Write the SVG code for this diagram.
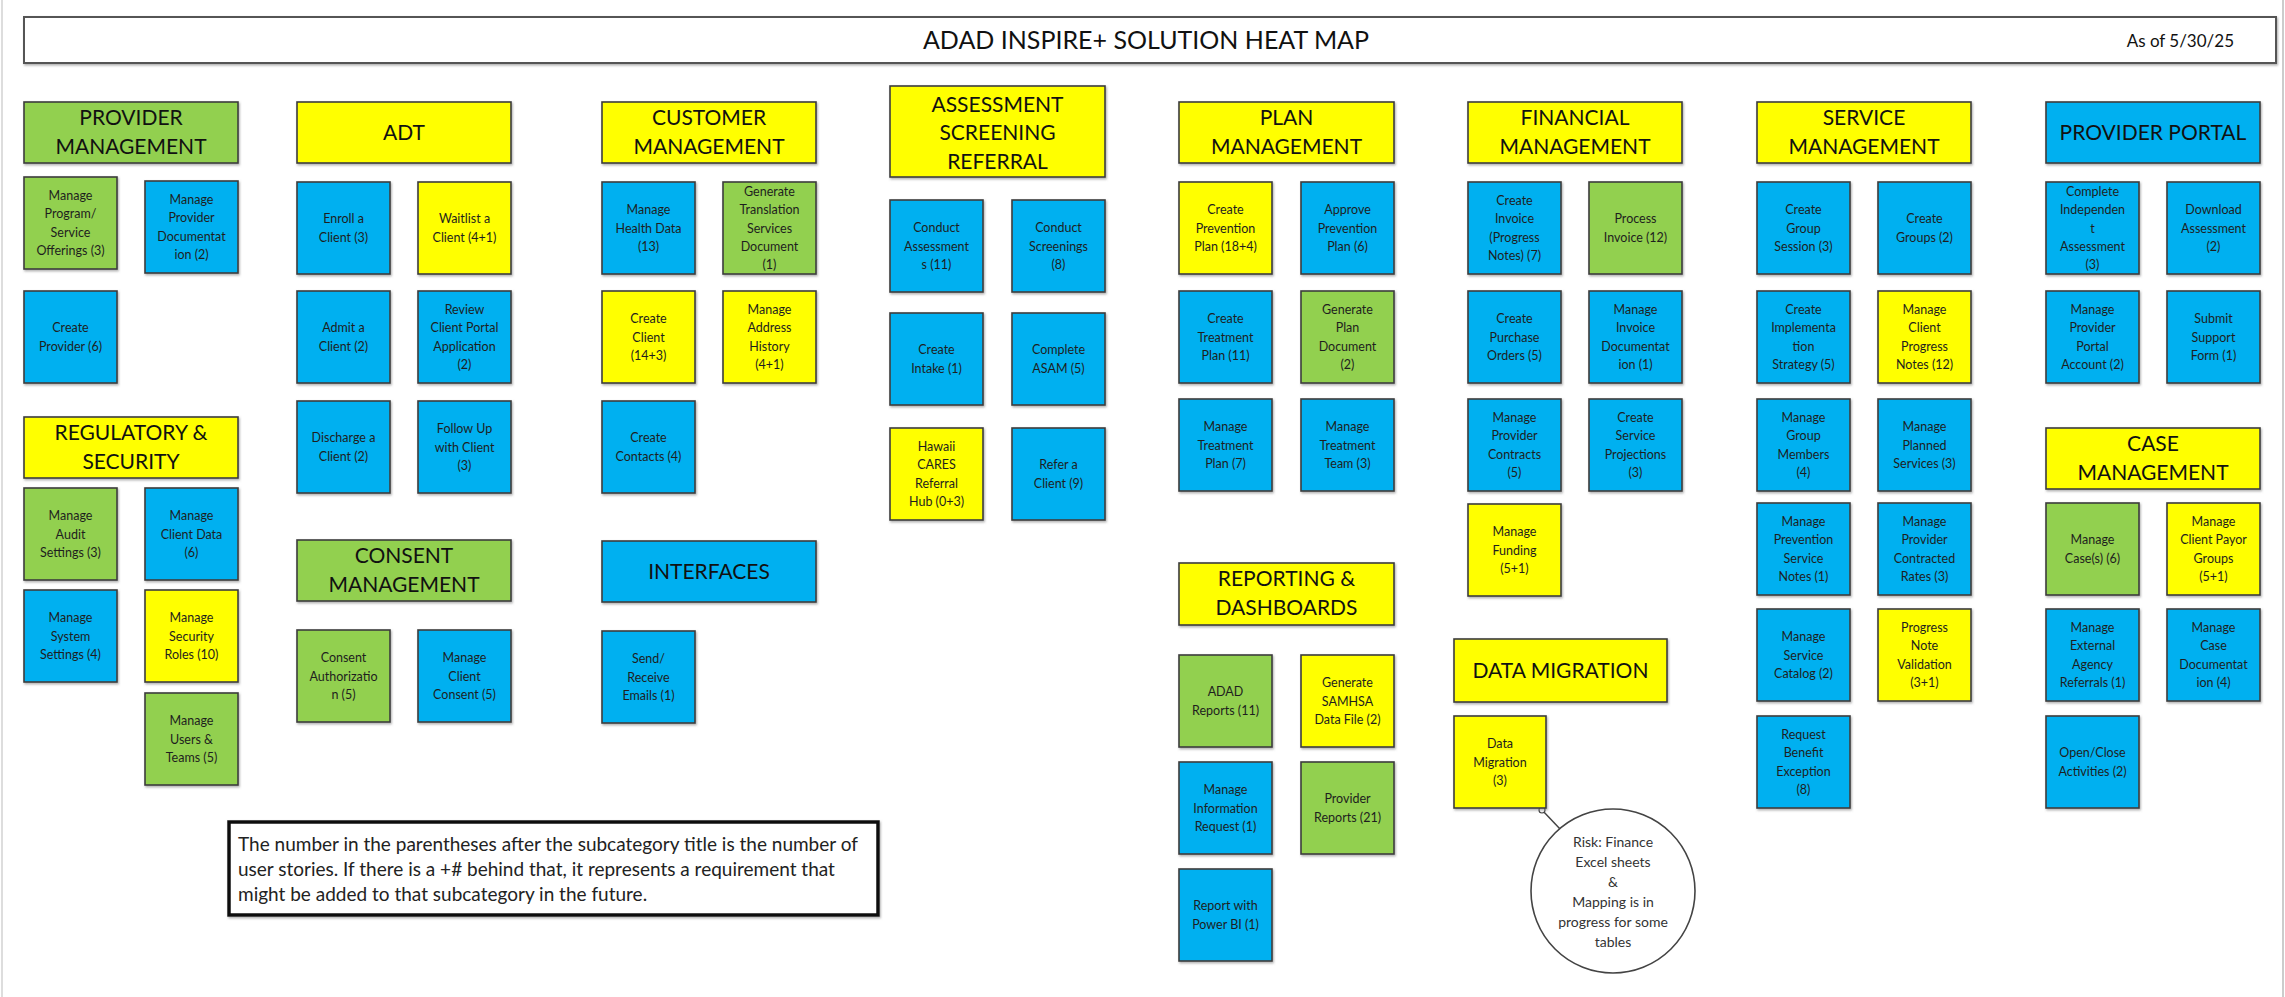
<svg xmlns="http://www.w3.org/2000/svg" width="2285" height="997" viewBox="0 0 2285 997">
<defs>
<filter id="sh" x="-10%" y="-10%" width="130%" height="130%"><feDropShadow dx="1" dy="1.5" stdDeviation="1" flood-color="#777" flood-opacity="0.6"/></filter>
<style>
.b{stroke:#3c3c3c;stroke-width:1.6;filter:url(#sh)}
.g{fill:#92D050}.y{fill:#FFFF00}.u{fill:#00B0F0}
.t{font-family:Lato,"Liberation Sans",sans-serif;font-size:12.5px;fill:#1e1e1e;text-anchor:middle}
.h{font-family:Lato,"Liberation Sans",sans-serif;font-size:21px;fill:#111;text-anchor:middle}
.c{font-family:Lato,"Liberation Sans",sans-serif;font-size:14px;fill:#333;text-anchor:middle}
.nt{font-family:Lato,"Liberation Sans",sans-serif;font-size:19px;fill:#222}
</style>
</defs>
<rect width="2285" height="997" fill="#fff"/>
<line x1="2" y1="0" x2="2" y2="997" stroke="#ddd" stroke-width="2"/>
<line x1="2283" y1="0" x2="2283" y2="997" stroke="#ccc" stroke-width="2"/>

<g id="title">
<rect x="24" y="17" width="2252" height="46" fill="#fff" stroke="#555" stroke-width="2" filter="url(#sh)"/>
<text x="1146" y="49" font-family="Lato,'Liberation Sans',sans-serif" font-size="25" fill="#111" text-anchor="middle">ADAD INSPIRE+ SOLUTION HEAT MAP</text>
<text x="2234" y="47" font-family="Lato,'Liberation Sans',sans-serif" font-size="17" fill="#111" text-anchor="end">As of 5/30/25</text>
</g>

<g id="connectors">
<line x1="1542" y1="810" x2="1561" y2="830" stroke="#444" stroke-width="1.5"/>
<circle cx="1542" cy="810" r="3" fill="#fff" stroke="#444" stroke-width="1.2"/>
</g>

<!-- Column 1 -->
<g id="h-provider-mgmt"><rect class="b g" x="24" y="102" width="214" height="61"/><text class="h" x="131" y="125"><tspan x="131">PROVIDER</tspan><tspan x="131" dy="29">MANAGEMENT</tspan></text></g>
<g id="n-program"><rect class="b g" x="24" y="177" width="93" height="92"/><text class="t" x="70.5" y="199.75"><tspan x="70.5">Manage</tspan><tspan x="70.5" dy="18.5">Program/</tspan><tspan x="70.5" dy="18.5">Service</tspan><tspan x="70.5" dy="18.5">Offerings (3)</tspan></text></g>
<g id="n-provdoc"><rect class="b u" x="145" y="181" width="93" height="92"/><text class="t" x="191.5" y="203.75"><tspan x="191.5">Manage</tspan><tspan x="191.5" dy="18.5">Provider</tspan><tspan x="191.5" dy="18.5">Documentat</tspan><tspan x="191.5" dy="18.5">ion (2)</tspan></text></g>
<g id="n-createprov"><rect class="b u" x="24" y="291" width="93" height="92"/><text class="t" x="70.5" y="332.25"><tspan x="70.5">Create</tspan><tspan x="70.5" dy="18.5">Provider (6)</tspan></text></g>
<g id="h-regulatory"><rect class="b y" x="24" y="417" width="214" height="61"/><text class="h" x="131" y="440"><tspan x="131">REGULATORY &amp;</tspan><tspan x="131" dy="29">SECURITY</tspan></text></g>
<g id="n-audit"><rect class="b g" x="24" y="488" width="93" height="92"/><text class="t" x="70.5" y="520"><tspan x="70.5">Manage</tspan><tspan x="70.5" dy="18.5">Audit</tspan><tspan x="70.5" dy="18.5">Settings (3)</tspan></text></g>
<g id="n-clientdata"><rect class="b u" x="145" y="488" width="93" height="92"/><text class="t" x="191.5" y="520"><tspan x="191.5">Manage</tspan><tspan x="191.5" dy="18.5">Client Data</tspan><tspan x="191.5" dy="18.5">(6)</tspan></text></g>
<g id="n-system"><rect class="b u" x="24" y="590" width="93" height="92"/><text class="t" x="70.5" y="622"><tspan x="70.5">Manage</tspan><tspan x="70.5" dy="18.5">System</tspan><tspan x="70.5" dy="18.5">Settings (4)</tspan></text></g>
<g id="n-roles"><rect class="b y" x="145" y="590" width="93" height="92"/><text class="t" x="191.5" y="622"><tspan x="191.5">Manage</tspan><tspan x="191.5" dy="18.5">Security</tspan><tspan x="191.5" dy="18.5">Roles (10)</tspan></text></g>
<g id="n-users"><rect class="b g" x="145" y="693" width="93" height="92"/><text class="t" x="191.5" y="725"><tspan x="191.5">Manage</tspan><tspan x="191.5" dy="18.5">Users &amp;</tspan><tspan x="191.5" dy="18.5">Teams (5)</tspan></text></g>

<!-- Column 2 -->
<g id="h-adt"><rect class="b y" x="297" y="102" width="214" height="61"/><text class="h" x="404" y="140">ADT</text></g>
<g id="n-enroll"><rect class="b u" x="297" y="182" width="93" height="92"/><text class="t" x="343.5" y="223.25"><tspan x="343.5">Enroll a</tspan><tspan x="343.5" dy="18.5">Client (3)</tspan></text></g>
<g id="n-waitlist"><rect class="b y" x="418" y="182" width="93" height="92"/><text class="t" x="464.5" y="223.25"><tspan x="464.5">Waitlist a</tspan><tspan x="464.5" dy="18.5">Client (4+1)</tspan></text></g>
<g id="n-admit"><rect class="b u" x="297" y="291" width="93" height="92"/><text class="t" x="343.5" y="332.25"><tspan x="343.5">Admit a</tspan><tspan x="343.5" dy="18.5">Client (2)</tspan></text></g>
<g id="n-review"><rect class="b u" x="418" y="291" width="93" height="92"/><text class="t" x="464.5" y="313.75"><tspan x="464.5">Review</tspan><tspan x="464.5" dy="18.5">Client Portal</tspan><tspan x="464.5" dy="18.5">Application</tspan><tspan x="464.5" dy="18.5">(2)</tspan></text></g>
<g id="n-discharge"><rect class="b u" x="297" y="401" width="93" height="92"/><text class="t" x="343.5" y="442.25"><tspan x="343.5">Discharge a</tspan><tspan x="343.5" dy="18.5">Client (2)</tspan></text></g>
<g id="n-followup"><rect class="b u" x="418" y="401" width="93" height="92"/><text class="t" x="464.5" y="433"><tspan x="464.5">Follow Up</tspan><tspan x="464.5" dy="18.5">with Client</tspan><tspan x="464.5" dy="18.5">(3)</tspan></text></g>
<g id="h-consent"><rect class="b g" x="297" y="540" width="214" height="61"/><text class="h" x="404" y="563"><tspan x="404">CONSENT</tspan><tspan x="404" dy="29">MANAGEMENT</tspan></text></g>
<g id="n-consentauth"><rect class="b g" x="297" y="630" width="93" height="92"/><text class="t" x="343.5" y="662"><tspan x="343.5">Consent</tspan><tspan x="343.5" dy="18.5">Authorizatio</tspan><tspan x="343.5" dy="18.5">n (5)</tspan></text></g>
<g id="n-clientconsent"><rect class="b u" x="418" y="630" width="93" height="92"/><text class="t" x="464.5" y="662"><tspan x="464.5">Manage</tspan><tspan x="464.5" dy="18.5">Client</tspan><tspan x="464.5" dy="18.5">Consent (5)</tspan></text></g>

<!-- Column 3 -->
<g id="h-customer"><rect class="b y" x="602" y="102" width="214" height="61"/><text class="h" x="709" y="125"><tspan x="709">CUSTOMER</tspan><tspan x="709" dy="29">MANAGEMENT</tspan></text></g>
<g id="n-health"><rect class="b u" x="602" y="182" width="93" height="92"/><text class="t" x="648.5" y="214"><tspan x="648.5">Manage</tspan><tspan x="648.5" dy="18.5">Health Data</tspan><tspan x="648.5" dy="18.5">(13)</tspan></text></g>
<g id="n-translation"><rect class="b g" x="723" y="182" width="93" height="92"/><text class="t" x="769.5" y="196"><tspan x="769.5">Generate</tspan><tspan x="769.5" dy="18.3">Translation</tspan><tspan x="769.5" dy="18.3">Services</tspan><tspan x="769.5" dy="18.3">Document</tspan><tspan x="769.5" dy="18.3">(1)</tspan></text></g>
<g id="n-createclient"><rect class="b y" x="602" y="291" width="93" height="92"/><text class="t" x="648.5" y="323"><tspan x="648.5">Create</tspan><tspan x="648.5" dy="18.5">Client</tspan><tspan x="648.5" dy="18.5">(14+3)</tspan></text></g>
<g id="n-address"><rect class="b y" x="723" y="291" width="93" height="92"/><text class="t" x="769.5" y="313.75"><tspan x="769.5">Manage</tspan><tspan x="769.5" dy="18.5">Address</tspan><tspan x="769.5" dy="18.5">History</tspan><tspan x="769.5" dy="18.5">(4+1)</tspan></text></g>
<g id="n-contacts"><rect class="b u" x="602" y="401" width="93" height="92"/><text class="t" x="648.5" y="442.25"><tspan x="648.5">Create</tspan><tspan x="648.5" dy="18.5">Contacts (4)</tspan></text></g>
<g id="h-interfaces"><rect class="b u" x="602" y="541" width="214" height="61"/><text class="h" x="709" y="579">INTERFACES</text></g>
<g id="n-emails"><rect class="b u" x="602" y="631" width="93" height="92"/><text class="t" x="648.5" y="663"><tspan x="648.5">Send/</tspan><tspan x="648.5" dy="18.5">Receive</tspan><tspan x="648.5" dy="18.5">Emails (1)</tspan></text></g>

<!-- Column 4 -->
<g id="h-assessment"><rect class="b y" x="890" y="86" width="215" height="91"/><text class="h" x="997.5" y="111.5"><tspan x="997.5">ASSESSMENT</tspan><tspan x="997.5" dy="28.5">SCREENING</tspan><tspan x="997.5" dy="28.5">REFERRAL</tspan></text></g>
<g id="n-assessments"><rect class="b u" x="890" y="200" width="93" height="92"/><text class="t" x="936.5" y="232"><tspan x="936.5">Conduct</tspan><tspan x="936.5" dy="18.5">Assessment</tspan><tspan x="936.5" dy="18.5">s (11)</tspan></text></g>
<g id="n-screenings"><rect class="b u" x="1012" y="200" width="93" height="92"/><text class="t" x="1058.5" y="232"><tspan x="1058.5">Conduct</tspan><tspan x="1058.5" dy="18.5">Screenings</tspan><tspan x="1058.5" dy="18.5">(8)</tspan></text></g>
<g id="n-intake"><rect class="b u" x="890" y="313" width="93" height="92"/><text class="t" x="936.5" y="354.25"><tspan x="936.5">Create</tspan><tspan x="936.5" dy="18.5">Intake (1)</tspan></text></g>
<g id="n-asam"><rect class="b u" x="1012" y="313" width="93" height="92"/><text class="t" x="1058.5" y="354.25"><tspan x="1058.5">Complete</tspan><tspan x="1058.5" dy="18.5">ASAM (5)</tspan></text></g>
<g id="n-hawaii"><rect class="b y" x="890" y="428" width="93" height="92"/><text class="t" x="936.5" y="450.75"><tspan x="936.5">Hawaii</tspan><tspan x="936.5" dy="18.5">CARES</tspan><tspan x="936.5" dy="18.5">Referral</tspan><tspan x="936.5" dy="18.5">Hub (0+3)</tspan></text></g>
<g id="n-refer"><rect class="b u" x="1012" y="428" width="93" height="92"/><text class="t" x="1058.5" y="469.25"><tspan x="1058.5">Refer a</tspan><tspan x="1058.5" dy="18.5">Client (9)</tspan></text></g>

<!-- Column 5 -->
<g id="h-plan"><rect class="b y" x="1179" y="102" width="215" height="61"/><text class="h" x="1286.5" y="125"><tspan x="1286.5">PLAN</tspan><tspan x="1286.5" dy="29">MANAGEMENT</tspan></text></g>
<g id="n-prevplan"><rect class="b y" x="1179" y="182" width="93" height="92"/><text class="t" x="1225.5" y="214"><tspan x="1225.5">Create</tspan><tspan x="1225.5" dy="18.5">Prevention</tspan><tspan x="1225.5" dy="18.5">Plan (18+4)</tspan></text></g>
<g id="n-approve"><rect class="b u" x="1301" y="182" width="93" height="92"/><text class="t" x="1347.5" y="214"><tspan x="1347.5">Approve</tspan><tspan x="1347.5" dy="18.5">Prevention</tspan><tspan x="1347.5" dy="18.5">Plan (6)</tspan></text></g>
<g id="n-treatplan"><rect class="b u" x="1179" y="291" width="93" height="92"/><text class="t" x="1225.5" y="323"><tspan x="1225.5">Create</tspan><tspan x="1225.5" dy="18.5">Treatment</tspan><tspan x="1225.5" dy="18.5">Plan (11)</tspan></text></g>
<g id="n-plandoc"><rect class="b g" x="1301" y="291" width="93" height="92"/><text class="t" x="1347.5" y="313.75"><tspan x="1347.5">Generate</tspan><tspan x="1347.5" dy="18.5">Plan</tspan><tspan x="1347.5" dy="18.5">Document</tspan><tspan x="1347.5" dy="18.5">(2)</tspan></text></g>
<g id="n-managetreat"><rect class="b u" x="1179" y="399" width="93" height="92"/><text class="t" x="1225.5" y="431"><tspan x="1225.5">Manage</tspan><tspan x="1225.5" dy="18.5">Treatment</tspan><tspan x="1225.5" dy="18.5">Plan (7)</tspan></text></g>
<g id="n-treatteam"><rect class="b u" x="1301" y="399" width="93" height="92"/><text class="t" x="1347.5" y="431"><tspan x="1347.5">Manage</tspan><tspan x="1347.5" dy="18.5">Treatment</tspan><tspan x="1347.5" dy="18.5">Team (3)</tspan></text></g>
<g id="h-reporting"><rect class="b y" x="1179" y="563" width="215" height="62"/><text class="h" x="1286.5" y="586"><tspan x="1286.5">REPORTING &amp;</tspan><tspan x="1286.5" dy="29">DASHBOARDS</tspan></text></g>
<g id="n-adadreports"><rect class="b g" x="1179" y="655" width="93" height="92"/><text class="t" x="1225.5" y="696.25"><tspan x="1225.5">ADAD</tspan><tspan x="1225.5" dy="18.5">Reports (11)</tspan></text></g>
<g id="n-samhsa"><rect class="b y" x="1301" y="655" width="93" height="92"/><text class="t" x="1347.5" y="687"><tspan x="1347.5">Generate</tspan><tspan x="1347.5" dy="18.5">SAMHSA</tspan><tspan x="1347.5" dy="18.5">Data File (2)</tspan></text></g>
<g id="n-inforequest"><rect class="b u" x="1179" y="762" width="93" height="92"/><text class="t" x="1225.5" y="794"><tspan x="1225.5">Manage</tspan><tspan x="1225.5" dy="18.5">Information</tspan><tspan x="1225.5" dy="18.5">Request (1)</tspan></text></g>
<g id="n-provreports"><rect class="b g" x="1301" y="762" width="93" height="92"/><text class="t" x="1347.5" y="803.25"><tspan x="1347.5">Provider</tspan><tspan x="1347.5" dy="18.5">Reports (21)</tspan></text></g>
<g id="n-powerbi"><rect class="b u" x="1179" y="869" width="93" height="92"/><text class="t" x="1225.5" y="910.25"><tspan x="1225.5">Report with</tspan><tspan x="1225.5" dy="18.5">Power BI (1)</tspan></text></g>

<!-- Column 6 -->
<g id="h-financial"><rect class="b y" x="1468" y="102" width="214" height="61"/><text class="h" x="1575" y="125"><tspan x="1575">FINANCIAL</tspan><tspan x="1575" dy="29">MANAGEMENT</tspan></text></g>
<g id="n-invoice"><rect class="b u" x="1468" y="182" width="93" height="92"/><text class="t" x="1514.5" y="204.75"><tspan x="1514.5">Create</tspan><tspan x="1514.5" dy="18.5">Invoice</tspan><tspan x="1514.5" dy="18.5">(Progress</tspan><tspan x="1514.5" dy="18.5">Notes) (7)</tspan></text></g>
<g id="n-processinv"><rect class="b g" x="1589" y="182" width="93" height="92"/><text class="t" x="1635.5" y="223.25"><tspan x="1635.5">Process</tspan><tspan x="1635.5" dy="18.5">Invoice (12)</tspan></text></g>
<g id="n-purchase"><rect class="b u" x="1468" y="291" width="93" height="92"/><text class="t" x="1514.5" y="323"><tspan x="1514.5">Create</tspan><tspan x="1514.5" dy="18.5">Purchase</tspan><tspan x="1514.5" dy="18.5">Orders (5)</tspan></text></g>
<g id="n-invdoc"><rect class="b u" x="1589" y="291" width="93" height="92"/><text class="t" x="1635.5" y="313.75"><tspan x="1635.5">Manage</tspan><tspan x="1635.5" dy="18.5">Invoice</tspan><tspan x="1635.5" dy="18.5">Documentat</tspan><tspan x="1635.5" dy="18.5">ion (1)</tspan></text></g>
<g id="n-contracts"><rect class="b u" x="1468" y="399" width="93" height="92"/><text class="t" x="1514.5" y="421.75"><tspan x="1514.5">Manage</tspan><tspan x="1514.5" dy="18.5">Provider</tspan><tspan x="1514.5" dy="18.5">Contracts</tspan><tspan x="1514.5" dy="18.5">(5)</tspan></text></g>
<g id="n-projections"><rect class="b u" x="1589" y="399" width="93" height="92"/><text class="t" x="1635.5" y="421.75"><tspan x="1635.5">Create</tspan><tspan x="1635.5" dy="18.5">Service</tspan><tspan x="1635.5" dy="18.5">Projections</tspan><tspan x="1635.5" dy="18.5">(3)</tspan></text></g>
<g id="n-funding"><rect class="b y" x="1468" y="504" width="93" height="92"/><text class="t" x="1514.5" y="536"><tspan x="1514.5">Manage</tspan><tspan x="1514.5" dy="18.5">Funding</tspan><tspan x="1514.5" dy="18.5">(5+1)</tspan></text></g>
<g id="h-datamigration"><rect class="b y" x="1454" y="639" width="213" height="63"/><text class="h" x="1560.5" y="678">DATA MIGRATION</text></g>
<g id="n-datamigration"><rect class="b y" x="1454" y="716" width="92" height="92"/><text class="t" x="1500" y="748"><tspan x="1500">Data</tspan><tspan x="1500" dy="18.5">Migration</tspan><tspan x="1500" dy="18.5">(3)</tspan></text></g>
<g id="callout-risk"><circle cx="1613" cy="891" r="82" fill="#fff" stroke="#444" stroke-width="1.6"/><text class="c" x="1613" y="847"><tspan x="1613">Risk: Finance</tspan><tspan x="1613" dy="20">Excel sheets</tspan><tspan x="1613" dy="20">&amp;</tspan><tspan x="1613" dy="20">Mapping is in</tspan><tspan x="1613" dy="20">progress for some</tspan><tspan x="1613" dy="20">tables</tspan></text></g>

<!-- Column 7 -->
<g id="h-service"><rect class="b y" x="1757" y="102" width="214" height="61"/><text class="h" x="1864" y="125"><tspan x="1864">SERVICE</tspan><tspan x="1864" dy="29">MANAGEMENT</tspan></text></g>
<g id="n-groupsession"><rect class="b u" x="1757" y="182" width="93" height="92"/><text class="t" x="1803.5" y="214"><tspan x="1803.5">Create</tspan><tspan x="1803.5" dy="18.5">Group</tspan><tspan x="1803.5" dy="18.5">Session (3)</tspan></text></g>
<g id="n-groups"><rect class="b u" x="1878" y="182" width="93" height="92"/><text class="t" x="1924.5" y="223.25"><tspan x="1924.5">Create</tspan><tspan x="1924.5" dy="18.5">Groups (2)</tspan></text></g>
<g id="n-implementation"><rect class="b u" x="1757" y="291" width="93" height="92"/><text class="t" x="1803.5" y="313.75"><tspan x="1803.5">Create</tspan><tspan x="1803.5" dy="18.5">Implementa</tspan><tspan x="1803.5" dy="18.5">tion</tspan><tspan x="1803.5" dy="18.5">Strategy (5)</tspan></text></g>
<g id="n-progressnotes"><rect class="b y" x="1878" y="291" width="93" height="92"/><text class="t" x="1924.5" y="313.75"><tspan x="1924.5">Manage</tspan><tspan x="1924.5" dy="18.5">Client</tspan><tspan x="1924.5" dy="18.5">Progress</tspan><tspan x="1924.5" dy="18.5">Notes (12)</tspan></text></g>
<g id="n-groupmembers"><rect class="b u" x="1757" y="399" width="93" height="92"/><text class="t" x="1803.5" y="421.75"><tspan x="1803.5">Manage</tspan><tspan x="1803.5" dy="18.5">Group</tspan><tspan x="1803.5" dy="18.5">Members</tspan><tspan x="1803.5" dy="18.5">(4)</tspan></text></g>
<g id="n-planned"><rect class="b u" x="1878" y="399" width="93" height="92"/><text class="t" x="1924.5" y="431"><tspan x="1924.5">Manage</tspan><tspan x="1924.5" dy="18.5">Planned</tspan><tspan x="1924.5" dy="18.5">Services (3)</tspan></text></g>
<g id="n-prevnotes"><rect class="b u" x="1757" y="503" width="93" height="92"/><text class="t" x="1803.5" y="525.75"><tspan x="1803.5">Manage</tspan><tspan x="1803.5" dy="18.5">Prevention</tspan><tspan x="1803.5" dy="18.5">Service</tspan><tspan x="1803.5" dy="18.5">Notes (1)</tspan></text></g>
<g id="n-rates"><rect class="b u" x="1878" y="503" width="93" height="92"/><text class="t" x="1924.5" y="525.75"><tspan x="1924.5">Manage</tspan><tspan x="1924.5" dy="18.5">Provider</tspan><tspan x="1924.5" dy="18.5">Contracted</tspan><tspan x="1924.5" dy="18.5">Rates (3)</tspan></text></g>
<g id="n-catalog"><rect class="b u" x="1757" y="609" width="93" height="92"/><text class="t" x="1803.5" y="641"><tspan x="1803.5">Manage</tspan><tspan x="1803.5" dy="18.5">Service</tspan><tspan x="1803.5" dy="18.5">Catalog (2)</tspan></text></g>
<g id="n-validation"><rect class="b y" x="1878" y="609" width="93" height="92"/><text class="t" x="1924.5" y="631.75"><tspan x="1924.5">Progress</tspan><tspan x="1924.5" dy="18.5">Note</tspan><tspan x="1924.5" dy="18.5">Validation</tspan><tspan x="1924.5" dy="18.5">(3+1)</tspan></text></g>
<g id="n-benefit"><rect class="b u" x="1757" y="716" width="93" height="92"/><text class="t" x="1803.5" y="738.75"><tspan x="1803.5">Request</tspan><tspan x="1803.5" dy="18.5">Benefit</tspan><tspan x="1803.5" dy="18.5">Exception</tspan><tspan x="1803.5" dy="18.5">(8)</tspan></text></g>

<!-- Column 8 -->
<g id="h-portal"><rect class="b u" x="2046" y="102" width="214" height="61"/><text class="h" x="2153" y="140">PROVIDER PORTAL</text></g>
<g id="n-independent"><rect class="b u" x="2046" y="182" width="93" height="92"/><text class="t" x="2092.5" y="196"><tspan x="2092.5">Complete</tspan><tspan x="2092.5" dy="18.3">Independen</tspan><tspan x="2092.5" dy="18.3">t</tspan><tspan x="2092.5" dy="18.3">Assessment</tspan><tspan x="2092.5" dy="18.3">(3)</tspan></text></g>
<g id="n-download"><rect class="b u" x="2167" y="182" width="93" height="92"/><text class="t" x="2213.5" y="214"><tspan x="2213.5">Download</tspan><tspan x="2213.5" dy="18.5">Assessment</tspan><tspan x="2213.5" dy="18.5">(2)</tspan></text></g>
<g id="n-portalaccount"><rect class="b u" x="2046" y="291" width="93" height="92"/><text class="t" x="2092.5" y="313.75"><tspan x="2092.5">Manage</tspan><tspan x="2092.5" dy="18.5">Provider</tspan><tspan x="2092.5" dy="18.5">Portal</tspan><tspan x="2092.5" dy="18.5">Account (2)</tspan></text></g>
<g id="n-support"><rect class="b u" x="2167" y="291" width="93" height="92"/><text class="t" x="2213.5" y="323"><tspan x="2213.5">Submit</tspan><tspan x="2213.5" dy="18.5">Support</tspan><tspan x="2213.5" dy="18.5">Form (1)</tspan></text></g>
<g id="h-case"><rect class="b y" x="2046" y="428" width="214" height="61"/><text class="h" x="2153" y="451"><tspan x="2153">CASE</tspan><tspan x="2153" dy="29">MANAGEMENT</tspan></text></g>
<g id="n-cases"><rect class="b g" x="2046" y="503" width="93" height="92"/><text class="t" x="2092.5" y="544.25"><tspan x="2092.5">Manage</tspan><tspan x="2092.5" dy="18.5">Case(s) (6)</tspan></text></g>
<g id="n-payor"><rect class="b y" x="2167" y="503" width="93" height="92"/><text class="t" x="2213.5" y="525.75"><tspan x="2213.5">Manage</tspan><tspan x="2213.5" dy="18.5">Client Payor</tspan><tspan x="2213.5" dy="18.5">Groups</tspan><tspan x="2213.5" dy="18.5">(5+1)</tspan></text></g>
<g id="n-external"><rect class="b u" x="2046" y="609" width="93" height="92"/><text class="t" x="2092.5" y="631.75"><tspan x="2092.5">Manage</tspan><tspan x="2092.5" dy="18.5">External</tspan><tspan x="2092.5" dy="18.5">Agency</tspan><tspan x="2092.5" dy="18.5">Referrals (1)</tspan></text></g>
<g id="n-casedoc"><rect class="b u" x="2167" y="609" width="93" height="92"/><text class="t" x="2213.5" y="631.75"><tspan x="2213.5">Manage</tspan><tspan x="2213.5" dy="18.5">Case</tspan><tspan x="2213.5" dy="18.5">Documentat</tspan><tspan x="2213.5" dy="18.5">ion (4)</tspan></text></g>
<g id="n-activities"><rect class="b u" x="2046" y="716" width="93" height="92"/><text class="t" x="2092.5" y="757.25"><tspan x="2092.5">Open/Close</tspan><tspan x="2092.5" dy="18.5">Activities (2)</tspan></text></g>

<!-- Legend note -->
<g id="note"><rect x="229" y="822" width="649" height="93" fill="#fff" stroke="#111" stroke-width="3.5" filter="url(#sh)"/><text class="nt" x="238" y="851"><tspan x="238">The number in the parentheses after the subcategory title is the number of</tspan><tspan x="238" dy="25">user stories. If there is a +# behind that, it represents a requirement that</tspan><tspan x="238" dy="25">might be added to that subcategory in the future.</tspan></text></g>
</svg>
